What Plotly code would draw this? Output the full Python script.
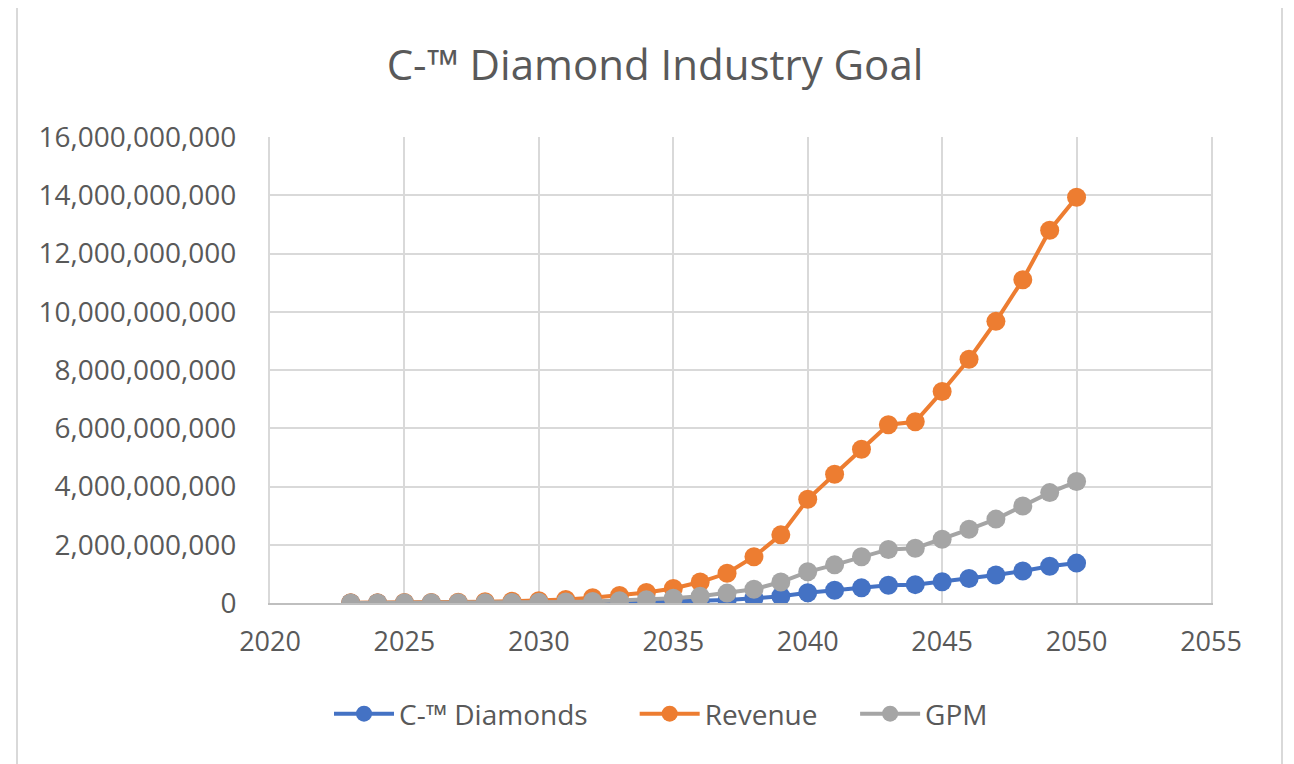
import plotly.graph_objects as go

years = list(range(2023, 2051))

# values in billions
diamonds_bn = [0.001, 0.001, 0.002, 0.002, 0.003, 0.004, 0.006, 0.008,
               0.012, 0.018, 0.026, 0.036, 0.05, 0.072, 0.10, 0.16,
               0.23, 0.35, 0.44, 0.52, 0.61, 0.63, 0.73, 0.84,
               0.96, 1.10, 1.26, 1.37]
revenue_bn = [0.01, 0.01, 0.015, 0.02, 0.025, 0.04, 0.06, 0.08,
              0.12, 0.18, 0.26, 0.36, 0.50, 0.72, 1.02, 1.59,
              2.34, 3.56, 4.42, 5.28, 6.12, 6.22, 7.26, 8.37,
              9.67, 11.1, 12.8, 13.93]
gpm_bn = [0.003, 0.003, 0.005, 0.006, 0.008, 0.012, 0.018, 0.024,
          0.036, 0.054, 0.08, 0.11, 0.16, 0.23, 0.34, 0.47,
          0.72, 1.07, 1.31, 1.59, 1.84, 1.88, 2.19, 2.53,
          2.88, 3.33, 3.79, 4.17]

series_names = ["C-™ Diamonds", "Revenue", "GPM"]
series_colors = ["#4472C4", "#ED7D31", "#A5A5A5"]
series_values = [diamonds_bn, revenue_bn, gpm_bn]
legend_pads = ["\u2003\u2002", "\u2003\u2009", ""]

FONT = "Open Sans"
TXT = "#595959"

fig = go.Figure()
for name, color, vals, pad in zip(series_names, series_colors, series_values, legend_pads):
    fig.add_trace(go.Scatter(
        x=years, y=[v * 1e9 for v in vals], name=name + pad, mode="lines+markers",
        line=dict(color=color, width=4),
        marker=dict(color=color, size=19),
    ))

# page offset (browser body margin)
OFF = 8
W, H = 1294, 764
L, R, T, B = 270 - OFF, 1211 - OFF, 137 - OFF, 603 - OFF

def px2x(px):
    return (px - OFF - L) / (R - L)

def py2y(py):
    return (B - (py - OFF)) / (B - T)

fig.update_layout(
    width=W, height=H,
    margin=dict(l=L, r=W - R, t=T, b=H - B),
    paper_bgcolor="white", plot_bgcolor="white",
    font=dict(family=FONT, color=TXT, size=27),
    title=dict(text="C-™ Diamond Industry Goal", x=(655 - OFF) / W, xref="container",
               xanchor="center", y=1 - (65 - OFF) / H, yref="container", yanchor="middle",
               font=dict(family=FONT, size=42, color=TXT)),
    xaxis=dict(range=[2020, 2055], dtick=5, tick0=2020, showgrid=True,
               gridcolor="#D9D9D9", gridwidth=2, showline=True,
               linecolor="#BFBFBF", linewidth=2, zeroline=False,
               ticks="", ticklabelstandoff=14,
               tickfont=dict(family=FONT, size=27, color=TXT)),
    yaxis=dict(range=[0, 16e9], dtick=2e9, tick0=0, tickformat=",",
               showgrid=True, gridcolor="#D9D9D9", gridwidth=2,
               showline=True, mirror=True, linecolor="#D9D9D9", linewidth=2,
               zeroline=False, ticks="", ticklabelstandoff=26,
               tickfont=dict(family=FONT, size=28, color=TXT)),
    legend=dict(orientation="h", x=px2x(661), xanchor="center",
                y=py2y(714), yanchor="middle",
                font=dict(family=FONT, size=28, color=TXT),
                itemwidth=60, traceorder="normal"),
    shapes=[dict(type="rect", xref="paper", yref="paper",
                 x0=px2x(17), x1=px2x(1282), y0=py2y(800), y1=py2y(5),
                 line=dict(color="#D9D9D9", width=2), layer="below")],
)

fig.write_html("out.html")
